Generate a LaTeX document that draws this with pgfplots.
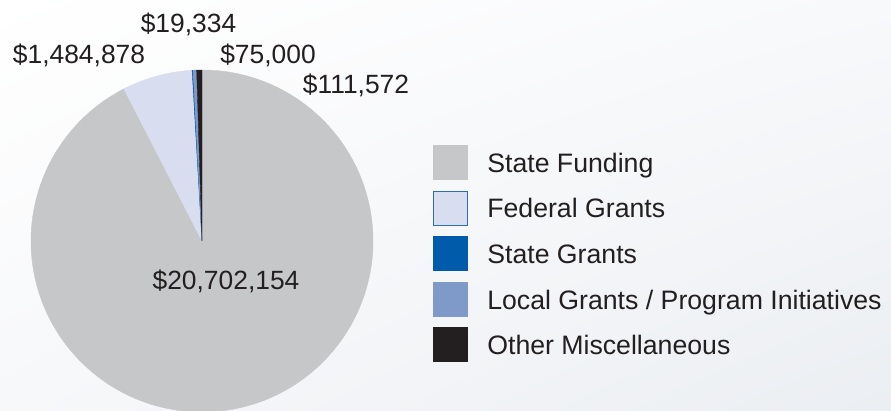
\documentclass[border=0pt]{standalone}
\usepackage{pgfplots}
\usepackage{pgfplotstable}
\pgfplotsset{compat=1.18}
\usetikzlibrary{shadings}
\usepackage{fontspec}
\setmainfont{Liberation Sans}
\definecolor{cSF}{HTML}{C6C7C9}
\definecolor{cFed}{HTML}{D8DDF0}
\definecolor{cSG}{HTML}{005BAA}
\definecolor{cFedB}{HTML}{2E6DB4}
\definecolor{cLoc}{HTML}{7F99C9}
\definecolor{cOth}{HTML}{231F20}
\definecolor{txt}{HTML}{231F20}
\definecolor{bgLR}{HTML}{EBEEF2}
\definecolor{bgUR}{HTML}{F8F9FB}
\definecolor{bgLL}{HTML}{F7F8FA}
\pgfplotstableread[col sep=comma]{
category,value
State Funding,20702154
Federal Grants,1484878
State Grants,19334
Local Grants / Program Initiatives,75000
Other Miscellaneous,111572
}\budget
\begin{document}
\begin{tikzpicture}
\pgfplotstablegetelem{0}{value}\of\budget\edef\vA{\pgfplotsretval}
\pgfplotstablegetelem{1}{value}\of\budget\edef\vB{\pgfplotsretval}
\pgfplotstablegetelem{2}{value}\of\budget\edef\vC{\pgfplotsretval}
\pgfplotstablegetelem{3}{value}\of\budget\edef\vD{\pgfplotsretval}
\pgfplotstablegetelem{4}{value}\of\budget\edef\vE{\pgfplotsretval}
\edef\tot{\fpeval{\vA+\vB+\vC+\vD+\vE}}
\edef\aA{\fpeval{round(90-360*\vA/\tot,4)}}
\edef\aB{\fpeval{round(90-360*(\vA+\vB)/\tot,4)}}
\edef\aC{\fpeval{round(90-360*(\vA+\vB+\vC)/\tot,4)}}
\edef\aD{\fpeval{round(90-360*(\vA+\vB+\vC+\vD)/\tot,4)}}
\def\aE{-270}
\def\R{128.25pt}
\begin{axis}[
  scale only axis, width=668.25pt, height=307.5pt,
  xmin=0, xmax=891, ymin=0, ymax=410,
  hide axis,
  legend cell align=left,
  legend image code/.code={\path[draw=none,#1] (0pt,-5.9pt) rectangle (26.25pt,20.35pt);},
  legend style={at={(axis cs:433,265)}, anchor=north west, draw=none, fill=none,
    font=\fontsize{20}{24}\selectfont, text=txt, inner sep=0pt,
    row sep=7.9pt, nodes={inner sep=0pt},
    cells={anchor=base west},
    /tikz/every odd column/.append style={column sep=14.3pt}},
]
\shade[upper left=white, upper right=bgUR, lower left=bgLL, lower right=bgLR] (axis cs:0,0) rectangle (axis cs:891,410);
\filldraw[cSF, line width=0.3pt] (axis cs:202,169) -- ++(90:\R) arc[start angle=90, end angle=\aA, radius=\R] -- cycle;
\filldraw[cFed, line width=0.3pt] (axis cs:202,169) -- ++(\aA:\R) arc[start angle=\aA, end angle=\aB, radius=\R] -- cycle;
\filldraw[cSG, line width=0.3pt] (axis cs:202,169) -- ++(\aB:\R) arc[start angle=\aB, end angle=\aC, radius=\R] -- cycle;
\filldraw[cLoc, line width=0.3pt] (axis cs:202,169) -- ++(\aC:\R) arc[start angle=\aC, end angle=\aD, radius=\R] -- cycle;
\filldraw[cOth, line width=0.3pt] (axis cs:202,169) -- ++(\aD:\R) arc[start angle=\aD, end angle=\aE, radius=\R] -- cycle;
\begin{scope}[every node/.style={font=\fontsize{19.8}{24}\selectfont, text=txt, inner sep=0pt, anchor=base}]
\node at (axis cs:188.5,377.5) {\$19,334};
\node at (axis cs:79,346.5) {\$1,484,878};
\node at (axis cs:268,346.5) {\$75,000};
\node at (axis cs:356,316.7) {\$111,572};
\node at (axis cs:226,120) {\$20,702,154};
\end{scope}
\addlegendimage{fill=cSF}\addlegendentry{State Funding}
\addlegendimage{legend image code/.code={\filldraw[fill=cFed, draw=cFedB, line width=0.9pt] (0.45pt,-5.45pt) rectangle (25.8pt,19.9pt);}}\addlegendentry{Federal Grants}
\addlegendimage{fill=cSG}\addlegendentry{State Grants}
\addlegendimage{fill=cLoc}\addlegendentry{Local Grants / Program Initiatives}
\addlegendimage{fill=cOth}\addlegendentry{Other Miscellaneous}
\end{axis}
\end{tikzpicture}
\end{document}
